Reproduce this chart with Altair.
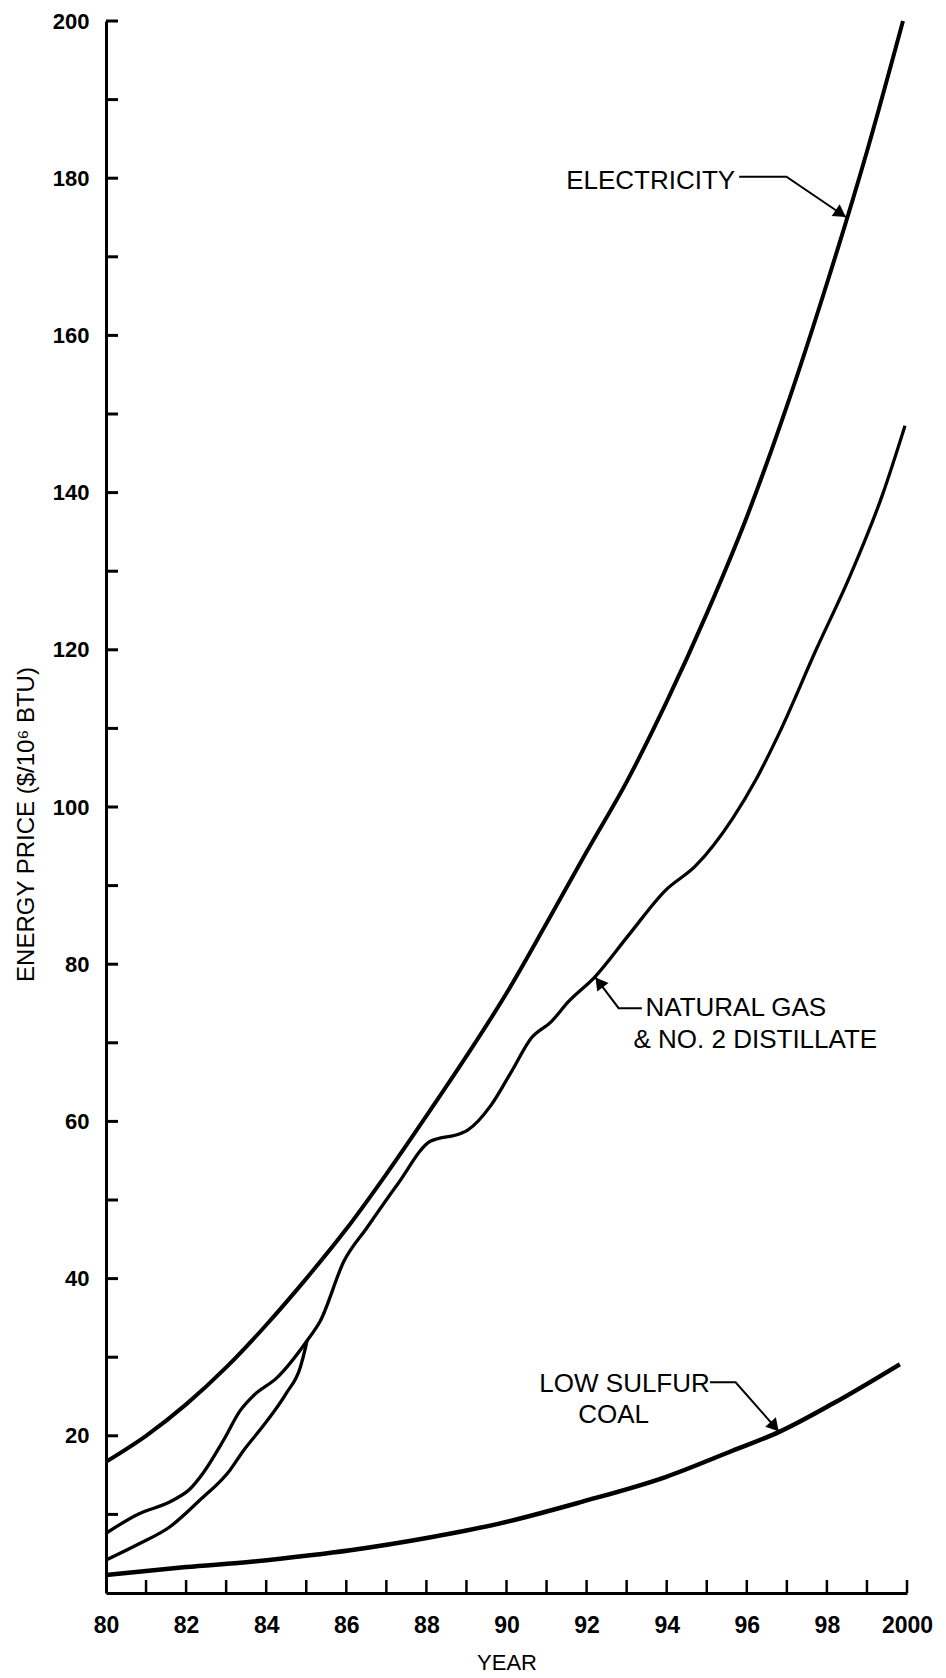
import math
import altair as alt
import pandas as pd

W, H = 801, 1572
FONT = "Liberation Sans"

# ---- data ----
elec_year = [80, 81, 82, 83, 84, 85, 86, 87, 88, 89, 90, 91, 92, 93, 94, 95, 96, 97, 98, 99, 99.9]
elec_val = [16.7, 20.0, 24.0, 28.7, 34.1, 40.0, 46.3, 53.3, 60.7, 68.3, 76.3, 85.2, 94.3,
            103.2, 113.4, 124.6, 136.9, 151.0, 166.6, 183.4, 200.0]

gas_upper_year = [80.0, 80.75, 81.67, 82.09, 82.43, 82.93, 83.35, 83.68, 84.27, 85.02,
                  85.35, 85.94, 86.52, 87.28, 88.11, 88.87, 89.03, 89.62, 90.12, 90.62,
                  91.12, 91.54, 92.21, 93.05, 93.97, 94.72, 95.64, 96.23, 96.81, 97.73,
                  98.57, 99.4, 99.95]
gas_upper_val = [7.6, 9.9, 11.8, 13.2, 15.3, 19.4, 23.2, 25.1, 27.4, 32.1,
                 34.6, 42.2, 46.5, 52.0, 57.5, 58.5, 58.9, 62.1, 66.3, 70.6,
                 72.7, 75.2, 78.4, 83.7, 89.4, 92.5, 98.5, 103.5, 109.4, 120.0,
                 129.3, 139.9, 148.5]

gas_lower_year = [80.0, 80.84, 81.59, 82.34, 83.09, 83.43, 83.93, 84.5, 84.85, 84.98, 85.02]
gas_lower_val = [4.2, 6.3, 8.4, 11.8, 15.6, 18.1, 21.3, 25.4, 28.7, 31.2, 32.1]

coal_year = [80.0, 82.0, 83.68, 85.1, 86.1, 88.11, 89.79, 91.88, 93.97, 95.64, 96.81, 98.15, 99.82]
coal_val = [2.3, 3.3, 4.0, 4.8, 5.45, 7.1, 8.8, 11.6, 14.75, 18.1, 20.5, 24.1, 29.1]

label_text = ["ELECTRICITY", "NATURAL GAS", "& NO. 2 DISTILLATE", "LOW SULFUR", "COAL"]
label_year = [91.49, 93.47, 93.17, 90.82, 91.79]
label_val = [179.6, 74.4, 70.4, 26.6, 22.6]

# leader lines: start, bend, tip
leader_ids = ["elec", "gas", "coal"]
leader_year = [[95.81, 96.99, 98.49], [93.38, 92.8, 92.21], [95.08, 95.72, 96.81]]
leader_val = [[180.2, 180.2, 175.0], [74.4, 74.4, 78.4], [26.8, 26.8, 20.5]]

x_tick_years = list(range(81, 101))
y_tick_vals = list(range(10, 201, 10))
x_label_years = list(range(80, 101, 2))
y_label_vals = list(range(20, 201, 20))

# ---- tables ----
def frame(xs, ys):
    return pd.DataFrame({"year": xs, "price": ys, "ord": list(range(len(xs)))})

elec_df = frame(elec_year, elec_val)
gas_u_df = frame(gas_upper_year, gas_upper_val)
gas_l_df = frame(gas_lower_year, gas_lower_val)
coal_df = frame(coal_year, coal_val)

lead_rows = []
head_rows = []
px_x = W / 20.0
px_y = H / 200.0
for lid, lx, lv in zip(leader_ids, leader_year, leader_val):
    for i, (a, b) in enumerate(zip(lx, lv)):
        lead_rows.append({"id": lid, "ord": i, "year": a, "price": b})
    dx = (lx[2] - lx[1]) * px_x
    dy = -(lv[2] - lv[1]) * px_y
    L = math.hypot(dx, dy)
    ang = math.degrees(math.atan2(dx, -dy)) % 360
    back = 7.0
    hx = lx[2] - dx / L * back / px_x
    hy = lv[2] + dy / L * back / px_y
    head_rows.append({"year": hx, "price": hy, "ang": ang})
lead_df = pd.DataFrame(lead_rows)
head_df = pd.DataFrame(head_rows)
label_df = pd.DataFrame({"label": label_text, "year": label_year, "price": label_val})
ytick_df = pd.DataFrame({"price": y_tick_vals})
xtick_df = pd.DataFrame({"year": x_tick_years})

xs = alt.Scale(domain=[80, 100], nice=False, zero=False)
ys = alt.Scale(domain=[0, 200], nice=False, zero=True)

x_axis = alt.Axis(values=x_label_years, format="d",
                  labelExpr="datum.value == 100 ? '2000' : datum.label",
                  ticks=False, tickSize=0, grid=False, domainColor="black", domainWidth=3,
                  labelFont=FONT, labelFontSize=23, labelColor="black", labelPadding=21,
                  labelFontWeight="bold", labelFlush=False, labelOverlap=False,
                  title="YEAR", titleFont=FONT, titleFontSize=22, titleFontWeight="normal",
                  titleColor="black", titlePadding=15)
y_axis = alt.Axis(values=y_label_vals, format="d",
                  ticks=False, tickSize=0, grid=False, domainColor="black", domainWidth=3,
                  labelFont=FONT, labelFontSize=22, labelColor="black", labelPadding=17,
                  labelFontWeight="bold", labelFlush=False, labelOverlap=False,
                  title="ENERGY PRICE ($/10⁶ BTU)", titleFont=FONT, titleFontSize=24,
                  titleFontWeight="normal", titleColor="black", titlePadding=14,
                  titleY=803)

X = alt.X("year:Q", scale=xs, axis=x_axis)
Y = alt.Y("price:Q", scale=ys, axis=y_axis)

def curve(df, sw):
    return alt.Chart(df).mark_line(color="black", strokeWidth=sw, interpolate="monotone").encode(
        x=X, y=Y, order="ord:Q")

elec = curve(elec_df, 4)
gas_u = curve(gas_u_df, 3.3)
gas_l = curve(gas_l_df, 3.3)
coal = curve(coal_df, 4.5)

ytick = alt.Chart(ytick_df).mark_rule(color="black", strokeWidth=3).encode(
    y=Y, x=alt.value(0), x2=alt.value(12))
xtick = alt.Chart(xtick_df).mark_rule(color="black", strokeWidth=2.5).encode(
    x=X, y=alt.value(H), y2=alt.value(H - 13))

leaders = alt.Chart(lead_df).mark_line(color="black", strokeWidth=2).encode(
    x=X, y=Y, detail="id:N", order="ord:Q")
heads = alt.Chart(head_df).mark_point(shape="triangle-up", filled=True, color="black",
                                      opacity=1, size=200).encode(
    x=X, y=Y, angle=alt.Angle("ang:Q", scale=None))
labels = alt.Chart(label_df).mark_text(align="left", baseline="middle", font=FONT,
                                       fontSize=26, color="black").encode(
    x=X, y=Y, text="label:N")

chart = alt.layer(elec, gas_u, gas_l, coal, ytick, xtick, leaders, heads, labels).properties(
    width=W, height=H,
    autosize=alt.AutoSizeParams(type="none"),
    padding={"left": 98, "top": 13, "right": 30, "bottom": 85},
).configure_view(strokeWidth=0)

chart.save("out.html", embed_options={"renderer": "svg", "actions": False})
